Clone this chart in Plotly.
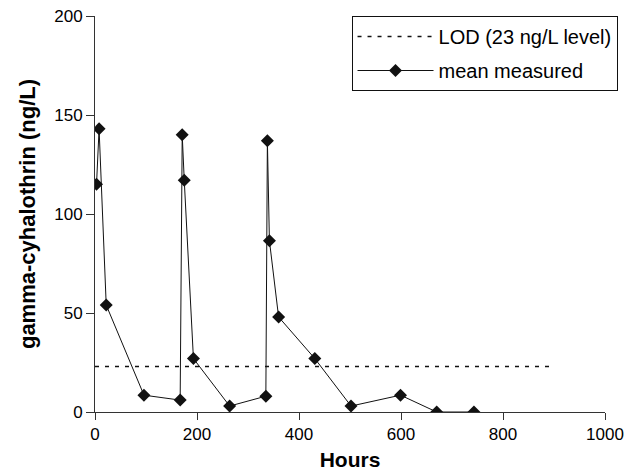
import plotly.graph_objects as go

hours = [3, 8, 22, 96, 167, 171, 175, 193, 264, 335, 338, 342, 360, 431, 502, 599, 670, 743]
mean_measured = [115, 143, 54, 8.5, 6, 140, 117, 27, 3, 8, 137, 86.5, 48, 27, 3, 8.5, 0, 0]
lod_x = [0, 900]
lod_y = [23, 23]

x_ticks = [0, 200, 400, 600, 800, 1000]
y_ticks = [0, 50, 100, 150, 200]

FONT = "Liberation Sans, Arial, sans-serif"

fig = go.Figure()
fig.add_trace(go.Scatter(
    x=lod_x, y=lod_y, mode="lines", name="LOD (23 ng/L level)",
    line=dict(color="#111111", width=1.5, dash="4px,6px"),
    legendgroup="a",
))
fig.add_trace(go.Scatter(
    x=hours, y=mean_measured, mode="lines+markers", name="mean measured",
    line=dict(color="#111111", width=1),
    marker=dict(symbol="diamond", size=10, color="#111111"),
    legendgroup="b",
))

fig.update_layout(
    width=635, height=472,
    margin=dict(l=95, r=30, t=16, b=60),
    paper_bgcolor="white", plot_bgcolor="white",
    font=dict(family=FONT, size=17, color="#000000"),
    showlegend=True,
    legend=dict(
        x=0.503, y=1.0, xanchor="left", yanchor="top",
        bordercolor="#111111", borderwidth=1, bgcolor="white",
        font=dict(family=FONT, size=20, color="#000000"),
        itemwidth=76, tracegroupgap=5, traceorder="grouped",
    ),
    xaxis=dict(
        range=[0, 1000], tickvals=x_ticks, ticks="outside", ticklen=7,
        tickcolor="#333333", showline=True, linecolor="#333333", linewidth=1,
        showgrid=False, zeroline=False, automargin=False,
        tickfont=dict(size=17),
        title=dict(text="<b>Hours</b>", font=dict(size=21), standoff=8),
    ),
    yaxis=dict(
        range=[0, 200], tickvals=y_ticks, ticks="outside", ticklen=8,
        tickcolor="#333333", showline=True, linecolor="#333333", linewidth=1,
        showgrid=False, zeroline=False, automargin=False,
        tickfont=dict(size=17),
        title=dict(text="<b>gamma-cyhalothrin (ng/L)</b>", font=dict(size=22), standoff=12),
    ),
)

fig.write_html("out.html")
